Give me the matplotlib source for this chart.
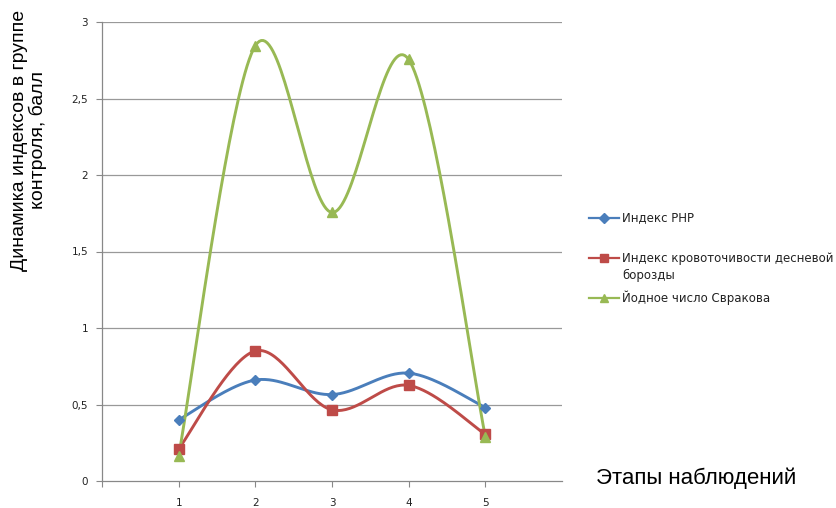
import numpy as np
import matplotlib
matplotlib.use("Agg")
import matplotlib.pyplot as plt
from matplotlib.lines import Line2D

stages = [1, 2, 3, 4, 5]
php_index = [0.40, 0.66, 0.565, 0.705, 0.48]
bleeding_index = [0.21, 0.85, 0.465, 0.625, 0.305]
svrakov_number = [0.165, 2.845, 1.755, 2.755, 0.29]

series_names = ["Индекс PHP", "Индекс кровоточивости десневой\nборозды", "Йодное число Свракова"]
colors = ["#4A7EBB", "#BE4B48", "#98B954"]
markers = ["D", "s", "^"]
msizes = [5.5, 7, 7.5]


def excel_smooth(x, y, n=40):
    # Catmull-Rom style smoothing, similar to Excel "smoothed line"
    x = np.asarray(x, float)
    y = np.asarray(y, float)
    px = np.concatenate([[x[0]], x, [x[-1]]])
    py = np.concatenate([[y[0]], y, [y[-1]]])
    xs, ys = [], []
    t = np.linspace(0, 1, n)
    for i in range(1, len(px) - 2):
        p0 = np.array([px[i], py[i]])
        p3 = np.array([px[i + 1], py[i + 1]])
        c1 = p0 + (np.array([px[i + 1], py[i + 1]]) - np.array([px[i - 1], py[i - 1]])) / 6
        c2 = p3 - (np.array([px[i + 2], py[i + 2]]) - np.array([px[i], py[i]])) / 6
        b = ((1 - t) ** 3)[:, None] * p0 + (3 * (1 - t) ** 2 * t)[:, None] * c1 \
            + (3 * (1 - t) * t ** 2)[:, None] * c2 + (t ** 3)[:, None] * p3
        xs.extend(b[:, 0])
        ys.extend(b[:, 1])
    return xs, ys


fig = plt.figure(figsize=(8.37, 5.08), dpi=100)
ax = fig.add_axes([102 / 837, 1 - 481 / 508, 460 / 837, 459 / 508])

for vals, c, m, ms in zip([php_index, bleeding_index, svrakov_number], colors, markers, msizes):
    sx, sy = excel_smooth(stages, vals)
    ax.plot(sx, sy, color=c, lw=2.1, solid_capstyle="round", zorder=3)
    ax.plot(stages, vals, ls="none", marker=m, ms=ms, color=c, zorder=4)

ax.set_xlim(0, 6)
ax.set_ylim(0, 3)
yt = np.arange(0, 3.01, 0.5)
ax.set_yticks(yt)
ax.set_yticklabels([("%g" % v).replace(".", ",") for v in yt], fontsize=7.5, color="#222222")
ax.set_xticks(stages)
ax.set_xticklabels([str(s) for s in stages], fontsize=7.5, color="#222222")
ax.set_xticks([0], minor=True)
ax.tick_params(axis="both", which="both", length=4, color="#888888", direction="out", width=0.8)
ax.tick_params(axis="x", pad=8)
ax.tick_params(axis="y", pad=6)
for v in yt[1:]:
    ax.axhline(v, color="#999999", lw=0.9, zorder=1)
for s in ["top", "right"]:
    ax.spines[s].set_visible(False)
for s in ["left", "bottom"]:
    ax.spines[s].set_color("#888888")
    ax.spines[s].set_linewidth(0.9)

fig.text(29 / 837, 1 - 140 / 508, "Динамика индексов в группе\nконтроля, балл",
         rotation=90, ha="center", va="center", fontsize=14,
         family="Liberation Sans", linespacing=1.0)
fig.text(596 / 837, 1 - 478 / 508, "Этапы наблюдений", ha="left", va="center",
         fontsize=16, family="Liberation Sans")

# legend drawn by hand to keep the Excel spacing
leg_y = [218, 258, 298]
for name, c, m, ms, ly in zip(series_names, colors, markers, msizes, leg_y):
    yy = 1 - ly / 508
    fig.add_artist(Line2D([589 / 837, 619 / 837], [yy, yy], color=c, lw=1.6,
                          transform=fig.transFigure))
    fig.add_artist(Line2D([604 / 837], [yy], marker=m, ms=ms * 0.85, color=c, ls="none",
                          transform=fig.transFigure))
    fig.text(622 / 837, yy + 6 / 508 if "\n" in name else yy, name, ha="left",
             va="top" if "\n" in name else "center",
             fontsize=8.5, color="#222222", linespacing=1.4)

fig.savefig("out.png", dpi=100)
